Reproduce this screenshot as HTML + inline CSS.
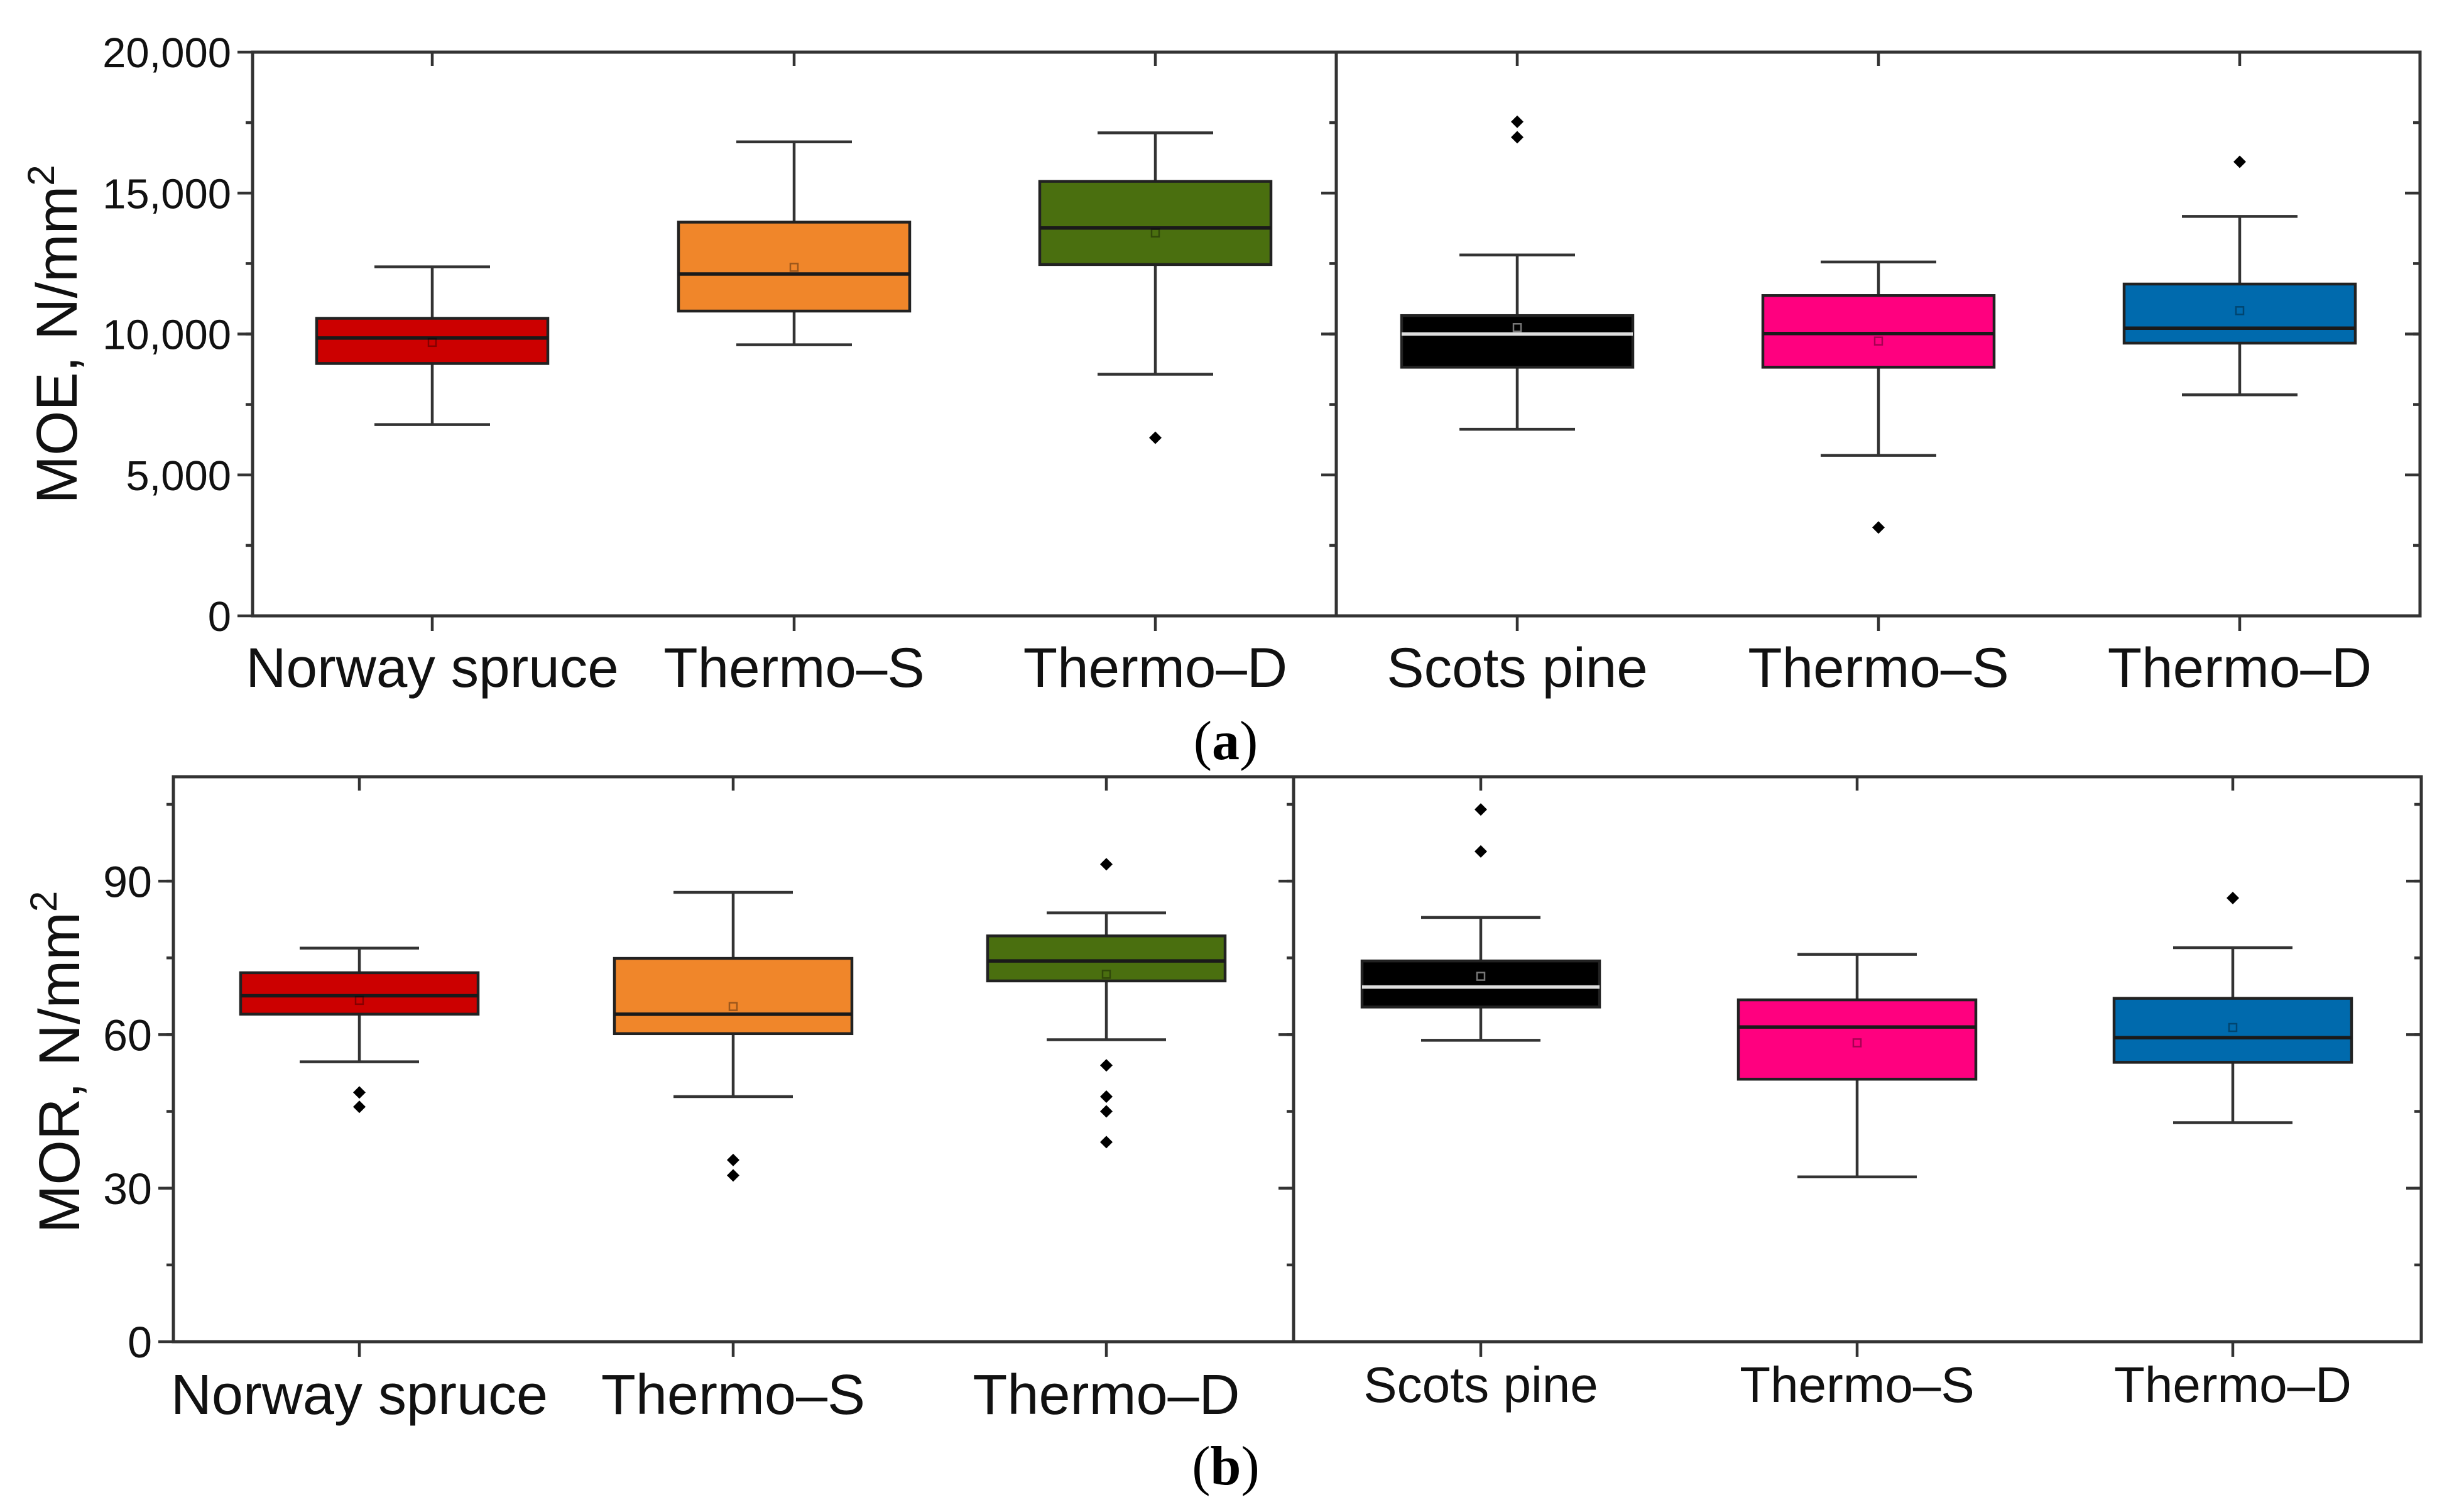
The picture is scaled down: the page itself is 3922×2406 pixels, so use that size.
<!DOCTYPE html>
<html><head><meta charset="utf-8"><style>
html,body{margin:0;padding:0;background:#fff;}
svg{display:block;font-family:"Liberation Sans",Arial,sans-serif;}
</style></head><body>
<svg id="fig" width="3922" height="2406" viewBox="0 0 3922 2406" xmlns="http://www.w3.org/2000/svg">
<rect x="0" y="0" width="3922" height="2406" fill="#fff"/>
<text transform="translate(122,532) rotate(-90)" text-anchor="middle" font-size="92" fill="#111">MOE, N/mm<tspan font-size="60" dy="-36">2</tspan></text>
<text transform="translate(126,1690) rotate(-90)" text-anchor="middle" font-size="92" fill="#111">MOR, N/mm<tspan font-size="60" dy="-36">2</tspan></text>
<text x="1951" y="1208" text-anchor="middle" font-family="Liberation Serif,serif" font-size="88" fill="#000">(<tspan font-weight="bold">a</tspan>)</text>
<text x="1951" y="2362" text-anchor="middle" font-family="Liberation Serif,serif" font-size="88" fill="#000">(<tspan font-weight="bold">b</tspan>)</text>
</svg>
<script>
// ---- data ----
const categories = ["Norway spruce","Thermo–S","Thermo–D","Scots pine","Thermo–S","Thermo–D"];
const colors = ["#cc0000","#f0862a","#4a6f0f","#000000","#ff007f","#006aad"];
// MOE (N/mm2)
const moeWhiskLow  = [6787, 9619, 8573, 6618, 5694, 7844];
const moeQ1        = [8954, 10814, 12466, 8822, 8822, 9677];
const moeMedian    = [9857, 12129, 13763, 9999, 10017, 10207];
const moeQ3        = [10557, 13969, 15416, 10653, 11365, 11773];
const moeWhiskHigh = [12383, 16818, 17139, 12803, 12555, 14172];
const moeMean      = [9703, 12366, 13585, 10228, 9750, 10829];
const moeOutliers  = [[], [], [6317], [17532, 16982], [3135], [16109]];
const moeTicks = [0, 5000, 10000, 15000, 20000];
const moeTickLabels = ["0","5,000","10,000","15,000","20,000"];
// MOR (N/mm2)
const morWhiskLow  = [54.7, 47.9, 59.0, 58.9, 32.2, 42.8];
const morQ1        = [64.0, 60.2, 70.5, 65.4, 51.3, 54.6];
const morMedian    = [67.6, 64.0, 74.4, 69.3, 61.5, 59.4];
const morQ3        = [72.1, 74.9, 79.3, 74.4, 66.8, 67.1];
const morWhiskHigh = [76.9, 87.8, 83.8, 82.9, 75.7, 77.0];
const morMean      = [66.7, 65.5, 71.8, 71.4, 58.4, 61.4];
const morOutliers  = [[48.7, 45.9], [35.5, 32.5], [93.3, 54.0, 47.9, 45.0, 39.0], [104, 95.8], [], [86.7]];
const morTicks = [0, 30, 60, 90];
const morTickLabels = ["0","30","60","90"];

const NS = "http://www.w3.org/2000/svg";
const svg = document.getElementById("fig");
function mk(tag, attrs, parent) {
  const e = document.createElementNS(NS, tag);
  for (const k in attrs) e.setAttribute(k, attrs[k]);
  (parent || svg).appendChild(e);
  return e;
}
const AX = "#333";

function drawPanel(cfg) {
  const g = mk("g", {});
  
  
  const y = v => cfg.bottom - (v - 0) / cfg.max * (cfg.bottom - cfg.top);
  const x = i => cfg.centers[i];
  for (let v = cfg.minor; v < cfg.max; v += cfg.minor) {
    const yy = y(v);
    mk("line", {x1: cfg.left - 11, x2: cfg.left, y1: yy, y2: yy, stroke: AX, "stroke-width": 4.5}, g);
    mk("line", {x1: cfg.div - 11, x2: cfg.div, y1: yy, y2: yy, stroke: AX, "stroke-width": 4.5}, g);
    mk("line", {x1: cfg.right - 11, x2: cfg.right, y1: yy, y2: yy, stroke: AX, "stroke-width": 4.5}, g);
  }
  cfg.ticks.forEach((v, k) => {
    const yy = y(v);
    mk("line", {x1: cfg.left - 24, x2: cfg.left, y1: yy, y2: yy, stroke: AX, "stroke-width": 4.5}, g);
    if (v > 0 && v < cfg.max) {
      mk("line", {x1: cfg.div - 24, x2: cfg.div, y1: yy, y2: yy, stroke: AX, "stroke-width": 4.5}, g);
      mk("line", {x1: cfg.right - 24, x2: cfg.right, y1: yy, y2: yy, stroke: AX, "stroke-width": 4.5}, g);
    }
    const t = mk("text", {x: cfg.left - 34, y: yy + cfg.tickFont * 0.36, "text-anchor": "end", "font-size": cfg.tickFont, fill: "#111"}, g);
    t.textContent = cfg.tickLabels[k];
    
    
  });
  mk("rect", {x: cfg.left, y: cfg.top, width: cfg.right - cfg.left, height: cfg.bottom - cfg.top, fill: "none", stroke: AX, "stroke-width": 5}, g);
  mk("line", {x1: cfg.div, x2: cfg.div, y1: cfg.top, y2: cfg.bottom, stroke: AX, "stroke-width": 5}, g);
  for (let i = 0; i < categories.length; i++) {
    const cx = x(i);
    mk("line", {x1: cx, x2: cx, y1: cfg.top, y2: cfg.top + 22, stroke: AX, "stroke-width": 4.5}, g);
    mk("line", {x1: cx, x2: cx, y1: cfg.bottom, y2: cfg.bottom + 24, stroke: AX, "stroke-width": 4.5}, g);
    const bg = mk("g", {}, g);
    
    
    mk("line", {x1: cx, x2: cx, y1: y(cfg.wh[i]), y2: y(cfg.q3[i]), stroke: AX, "stroke-width": 4.5}, bg);
    mk("line", {x1: cx, x2: cx, y1: y(cfg.q1[i]), y2: y(cfg.wl[i]), stroke: AX, "stroke-width": 4.5}, bg);
    mk("line", {x1: cx - cfg.cap, x2: cx + cfg.cap, y1: y(cfg.wh[i]), y2: y(cfg.wh[i]), stroke: AX, "stroke-width": 4.5}, bg);
    mk("line", {x1: cx - cfg.cap, x2: cx + cfg.cap, y1: y(cfg.wl[i]), y2: y(cfg.wl[i]), stroke: AX, "stroke-width": 4.5}, bg);
    mk("rect", {x: cx - cfg.half, y: y(cfg.q3[i]), width: 2 * cfg.half, height: y(cfg.q1[i]) - y(cfg.q3[i]), fill: colors[i], stroke: "#222", "stroke-width": 4.5}, bg);
    mk("line", {x1: cx - cfg.half, x2: cx + cfg.half, y1: y(cfg.med[i]), y2: y(cfg.med[i]), stroke: i === 3 ? "#ddd" : "#1a1a1a", "stroke-width": 5.5}, bg);
    mk("rect", {x: cx - 6, y: y(cfg.mean[i]) - 6, width: 12, height: 12, fill: "none", stroke: i === 3 ? "#777" : "rgba(0,0,0,0.35)", "stroke-width": 2.5}, bg);
    cfg.out[i].forEach(v => {
      const yy = y(v);
      const d = mk("polygon", {points: `${cx},${yy - 10} ${cx + 10},${yy} ${cx},${yy + 10} ${cx - 10},${yy}`, fill: "#000"}, bg);
      
      
    });
    const fs = (i >= 3 && cfg.rightFont) ? cfg.rightFont : cfg.catFont;
    const by = (i >= 3 && cfg.rightBase) ? cfg.rightBase : cfg.catBase;
    const t = mk("text", {x: cx, y: by, "text-anchor": "middle", "font-size": fs, fill: "#111"}, g);
    t.textContent = categories[i];
    
    
  }
}

drawPanel({name: "moe-chart", left: 402, right: 3852, div: 2127, top: 83, bottom: 980, max: 20000, minor: 2500,
  ticks: moeTicks, tickLabels: moeTickLabels, tickFont: 67,
  centers: [688, 1264, 1839, 2415, 2990, 3565], half: 184, cap: 92,
  wl: moeWhiskLow, q1: moeQ1, med: moeMedian, q3: moeQ3, wh: moeWhiskHigh, mean: moeMean, out: moeOutliers,
  catFont: 89, catBase: 1093});
drawPanel({name: "mor-chart", left: 276, right: 3854, div: 2059, top: 1236, bottom: 2135, max: 110.4, minor: 15,
  ticks: morTicks, tickLabels: morTickLabels, tickFont: 70,
  centers: [572, 1167, 1761, 2357, 2956, 3554], half: 189, cap: 95,
  wl: morWhiskLow, q1: morQ1, med: morMedian, q3: morQ3, wh: morWhiskHigh, mean: morMean, out: morOutliers,
  catFont: 90, catBase: 2250, rightFont: 80, rightBase: 2231});
</script>
</body></html>
